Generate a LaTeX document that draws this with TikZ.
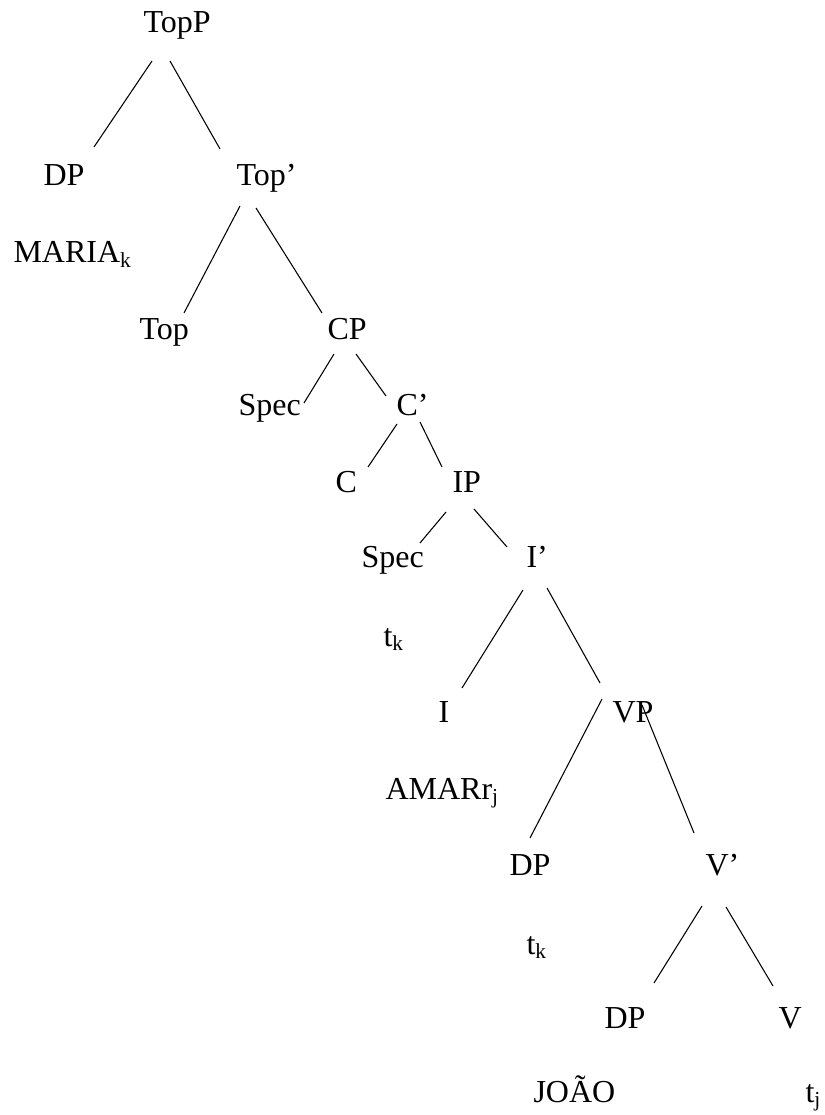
\documentclass[tikz,border=0pt]{standalone}
\usepackage{fontspec}
\setmainfont{Liberation Serif}

\begin{document}
\begin{tikzpicture}[
    x=0.375pt, y=-0.375pt,
    every node/.style={anchor=base west, inner sep=0pt, font=\fontsize{12}{14}\selectfont},
    branch/.style={line width=0.4pt, black}
  ]
    \useasboundingbox (0,0) rectangle (824,1115);
    % labels
    \node (topP) at (143,33) {TopP};
    \node (dpA) at (43,186) {DP};
    \node (topBar) at (236,186) {Top’};
    \node (maria) at (13,263) {MARIA\textsubscript{k}};
    \node (top) at (139,340) {Top};
    \node (cp) at (327,340) {CP};
    \node (specA) at (238,415) {Spec};
    \node (cBar) at (396,415) {C’};
    \node (c) at (335,492) {C};
    \node (ip) at (452,492) {IP};
    \node (specB) at (361,567) {Spec};
    \node (iBar) at (526,567) {I’};
    \node (tkA) at (383,646) {t\textsubscript{k}};
    \node (i) at (438,722) {I};
    \node (vp) at (612,722) {VP};
    \node (amar) at (385,799) {AMARr\textsubscript{j}};
    \node (dpB) at (509,875) {DP};
    \node (vBar) at (705,875) {V’};
    \node (tkB) at (526,954) {t\textsubscript{k}};
    \node (dpC) at (604,1028) {DP};
    \node (v) at (778,1028) {V};
    \node (joao) at (533,1102) {JOÃO};
    \node (tj) at (805,1102) {t\textsubscript{j}};
    % branches
    \draw[branch] ([shift={(9,28)}]topP.base west) -- ([shift={(51,-39)}]dpA.base west);
    \draw[branch] ([shift={(27,28)}]topP.base west) -- ([shift={(-16,-37)}]topBar.base west);
    \draw[branch] ([shift={(4,20)}]topBar.base west) -- ([shift={(45,-27)}]top.base west);
    \draw[branch] ([shift={(20,22)}]topBar.base west) -- ([shift={(-5,-27)}]cp.base west);
    \draw[branch] ([shift={(7,14)}]cp.base west) -- ([shift={(66,-12)}]specA.base west);
    \draw[branch] ([shift={(29,14)}]cp.base west) -- ([shift={(-10,-19)}]cBar.base west);
    \draw[branch] ([shift={(1,9)}]cBar.base west) -- ([shift={(33,-25)}]c.base west);
    \draw[branch] ([shift={(24,7)}]cBar.base west) -- ([shift={(-10,-25)}]ip.base west);
    \draw[branch] ([shift={(-6,20)}]ip.base west) -- ([shift={(59,-24)}]specB.base west);
    \draw[branch] ([shift={(22,17)}]ip.base west) -- ([shift={(-19,-20)}]iBar.base west);
    \draw[branch] ([shift={(-3,23)}]iBar.base west) -- ([shift={(24,-34)}]i.base west);
    \draw[branch] ([shift={(21,21)}]iBar.base west) -- ([shift={(-12,-39)}]vp.base west);
    \draw[branch] ([shift={(-10,-23)}]vp.base west) -- ([shift={(21,-37)}]dpB.base west);
    \draw[branch] ([shift={(30,-17)}]vp.base west) -- ([shift={(-11,-42)}]vBar.base west);
    \draw[branch] ([shift={(-3,31)}]vBar.base west) -- ([shift={(50,-45)}]dpC.base west);
    \draw[branch] ([shift={(21,32)}]vBar.base west) -- ([shift={(-5,-42)}]v.base west);
\end{tikzpicture}
\end{document}
